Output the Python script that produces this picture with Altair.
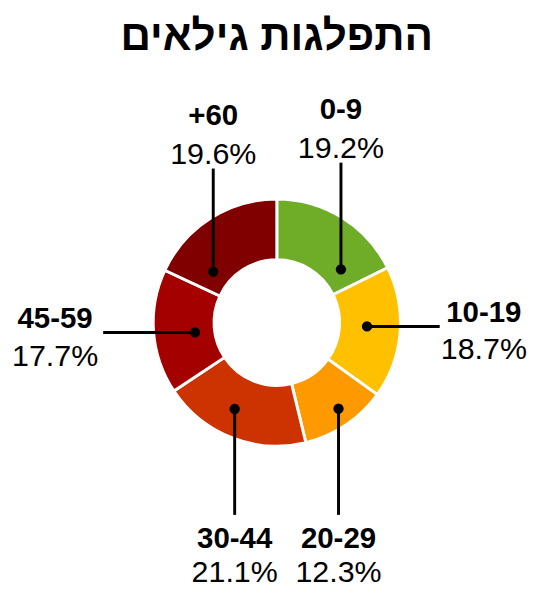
import math
import altair as alt
import pandas as pd

# ---------------- data ----------------
title_text = "התפלגות גילאים"
groups = ["0-9", "10-19", "20-29", "30-44", "45-59", "+60"]
shares = [19.2, 18.7, 12.3, 21.1, 17.7, 19.6]
share_labels = ["19.2%", "18.7%", "12.3%", "21.1%", "17.7%", "19.6%"]

# ---------------- style / layout ----------------
colors = ["#6FAC28", "#FFC000", "#FF9900", "#CC3300", "#A50000", "#800000"]
W, H = 519, 577          # plot area
CX, CY = 274, 315        # donut centre inside plot area (from top-left)
R_IN, R_OUT = 64, 126
dot_frac = [0.79, 0.465, 0.46, 0.566, 0.456, 0.21]   # where the dot sits inside its slice
dot_rad = [85, 92, 108, 98, 84, 83]
leader_dir = ["up", "right", "down", "down", "left", "up"]
leader_end = [163, 166, -196, -196, -177, 157]
FONT = "Liberation Sans"

total = sum(shares)
rows = []
cum = 0.0
for i, g in enumerate(groups):
    a = (cum + dot_frac[i] * shares[i]) / total * 2 * math.pi
    cum += shares[i]
    dx = dot_rad[i] * math.sin(a)
    dy = dot_rad[i] * math.cos(a)
    d = leader_dir[i]
    e = leader_end[i]
    if d == "up":
        ex, ey = dx, e
        bx, by, px, py = ex, e + 44, ex, e + 5
    elif d == "down":
        ex, ey = dx, e
        bx, by, px, py = ex, e - 34, ex, e - 68
    elif d == "right":
        ex, ey = e, dy
        bx, by, px, py = e + 45, dy + 5, e + 45, dy - 33
    else:
        ex, ey = e, dy
        bx, by, px, py = e - 49, dy + 5, e - 49, dy - 34
    rows.append(dict(idx=i, group=g, share=shares[i], pct=share_labels[i],
                     cx=0, cy=0, dx=dx, dy=dy, ex=ex, ey=ey,
                     bx=bx, by=by, px=px, py=py))
df = pd.DataFrame(rows)

xs = alt.Scale(domain=[-CX, W - CX], nice=False, zero=False)
ys = alt.Scale(domain=[-(H - CY), CY], nice=False, zero=False)

base = alt.Chart(df)

arcs = base.mark_arc(innerRadius=R_IN, outerRadius=R_OUT, stroke="white", strokeWidth=3).encode(
    x=alt.X("cx:Q", scale=xs, axis=None),
    y=alt.Y("cy:Q", scale=ys, axis=None),
    theta=alt.Theta("share:Q", stack=True),
    color=alt.Color("group:N", scale=alt.Scale(domain=groups, range=colors), legend=None),
    order=alt.Order("idx:Q"),
)

leaders = base.mark_rule(color="black", strokeWidth=3).encode(
    x=alt.X("dx:Q", scale=xs, axis=None),
    y=alt.Y("dy:Q", scale=ys, axis=None),
    x2="ex:Q",
    y2="ey:Q",
)

dots = base.mark_circle(color="black", opacity=1, size=110).encode(
    x=alt.X("dx:Q", scale=xs, axis=None),
    y=alt.Y("dy:Q", scale=ys, axis=None),
)

names = base.mark_text(font=FONT, fontSize=30, fontWeight="bold", color="black",
                       align="center", baseline="alphabetic").encode(
    x=alt.X("bx:Q", scale=xs, axis=None),
    y=alt.Y("by:Q", scale=ys, axis=None),
    text="group:N",
)

pcts = base.mark_text(font=FONT, fontSize=31, color="black",
                      align="center", baseline="alphabetic").encode(
    x=alt.X("px:Q", scale=xs, axis=None),
    y=alt.Y("py:Q", scale=ys, axis=None),
    text="pct:N",
)

title_df = pd.DataFrame({"t": [title_text], "tx": [0], "ty": [278]})
title = alt.Chart(title_df).mark_text(font=FONT, fontSize=43, fontWeight="bold", color="black",
                                      align="center", baseline="alphabetic").encode(
    x=alt.X("tx:Q", scale=xs, axis=None),
    y=alt.Y("ty:Q", scale=ys, axis=None),
    text="t:N",
)

chart = alt.layer(arcs, leaders, dots, names, pcts, title).properties(
    width=W, height=H, padding=0, background="white"
).configure_view(stroke=None)

chart.save("out.html", embed_options={"renderer": "svg", "actions": False})
